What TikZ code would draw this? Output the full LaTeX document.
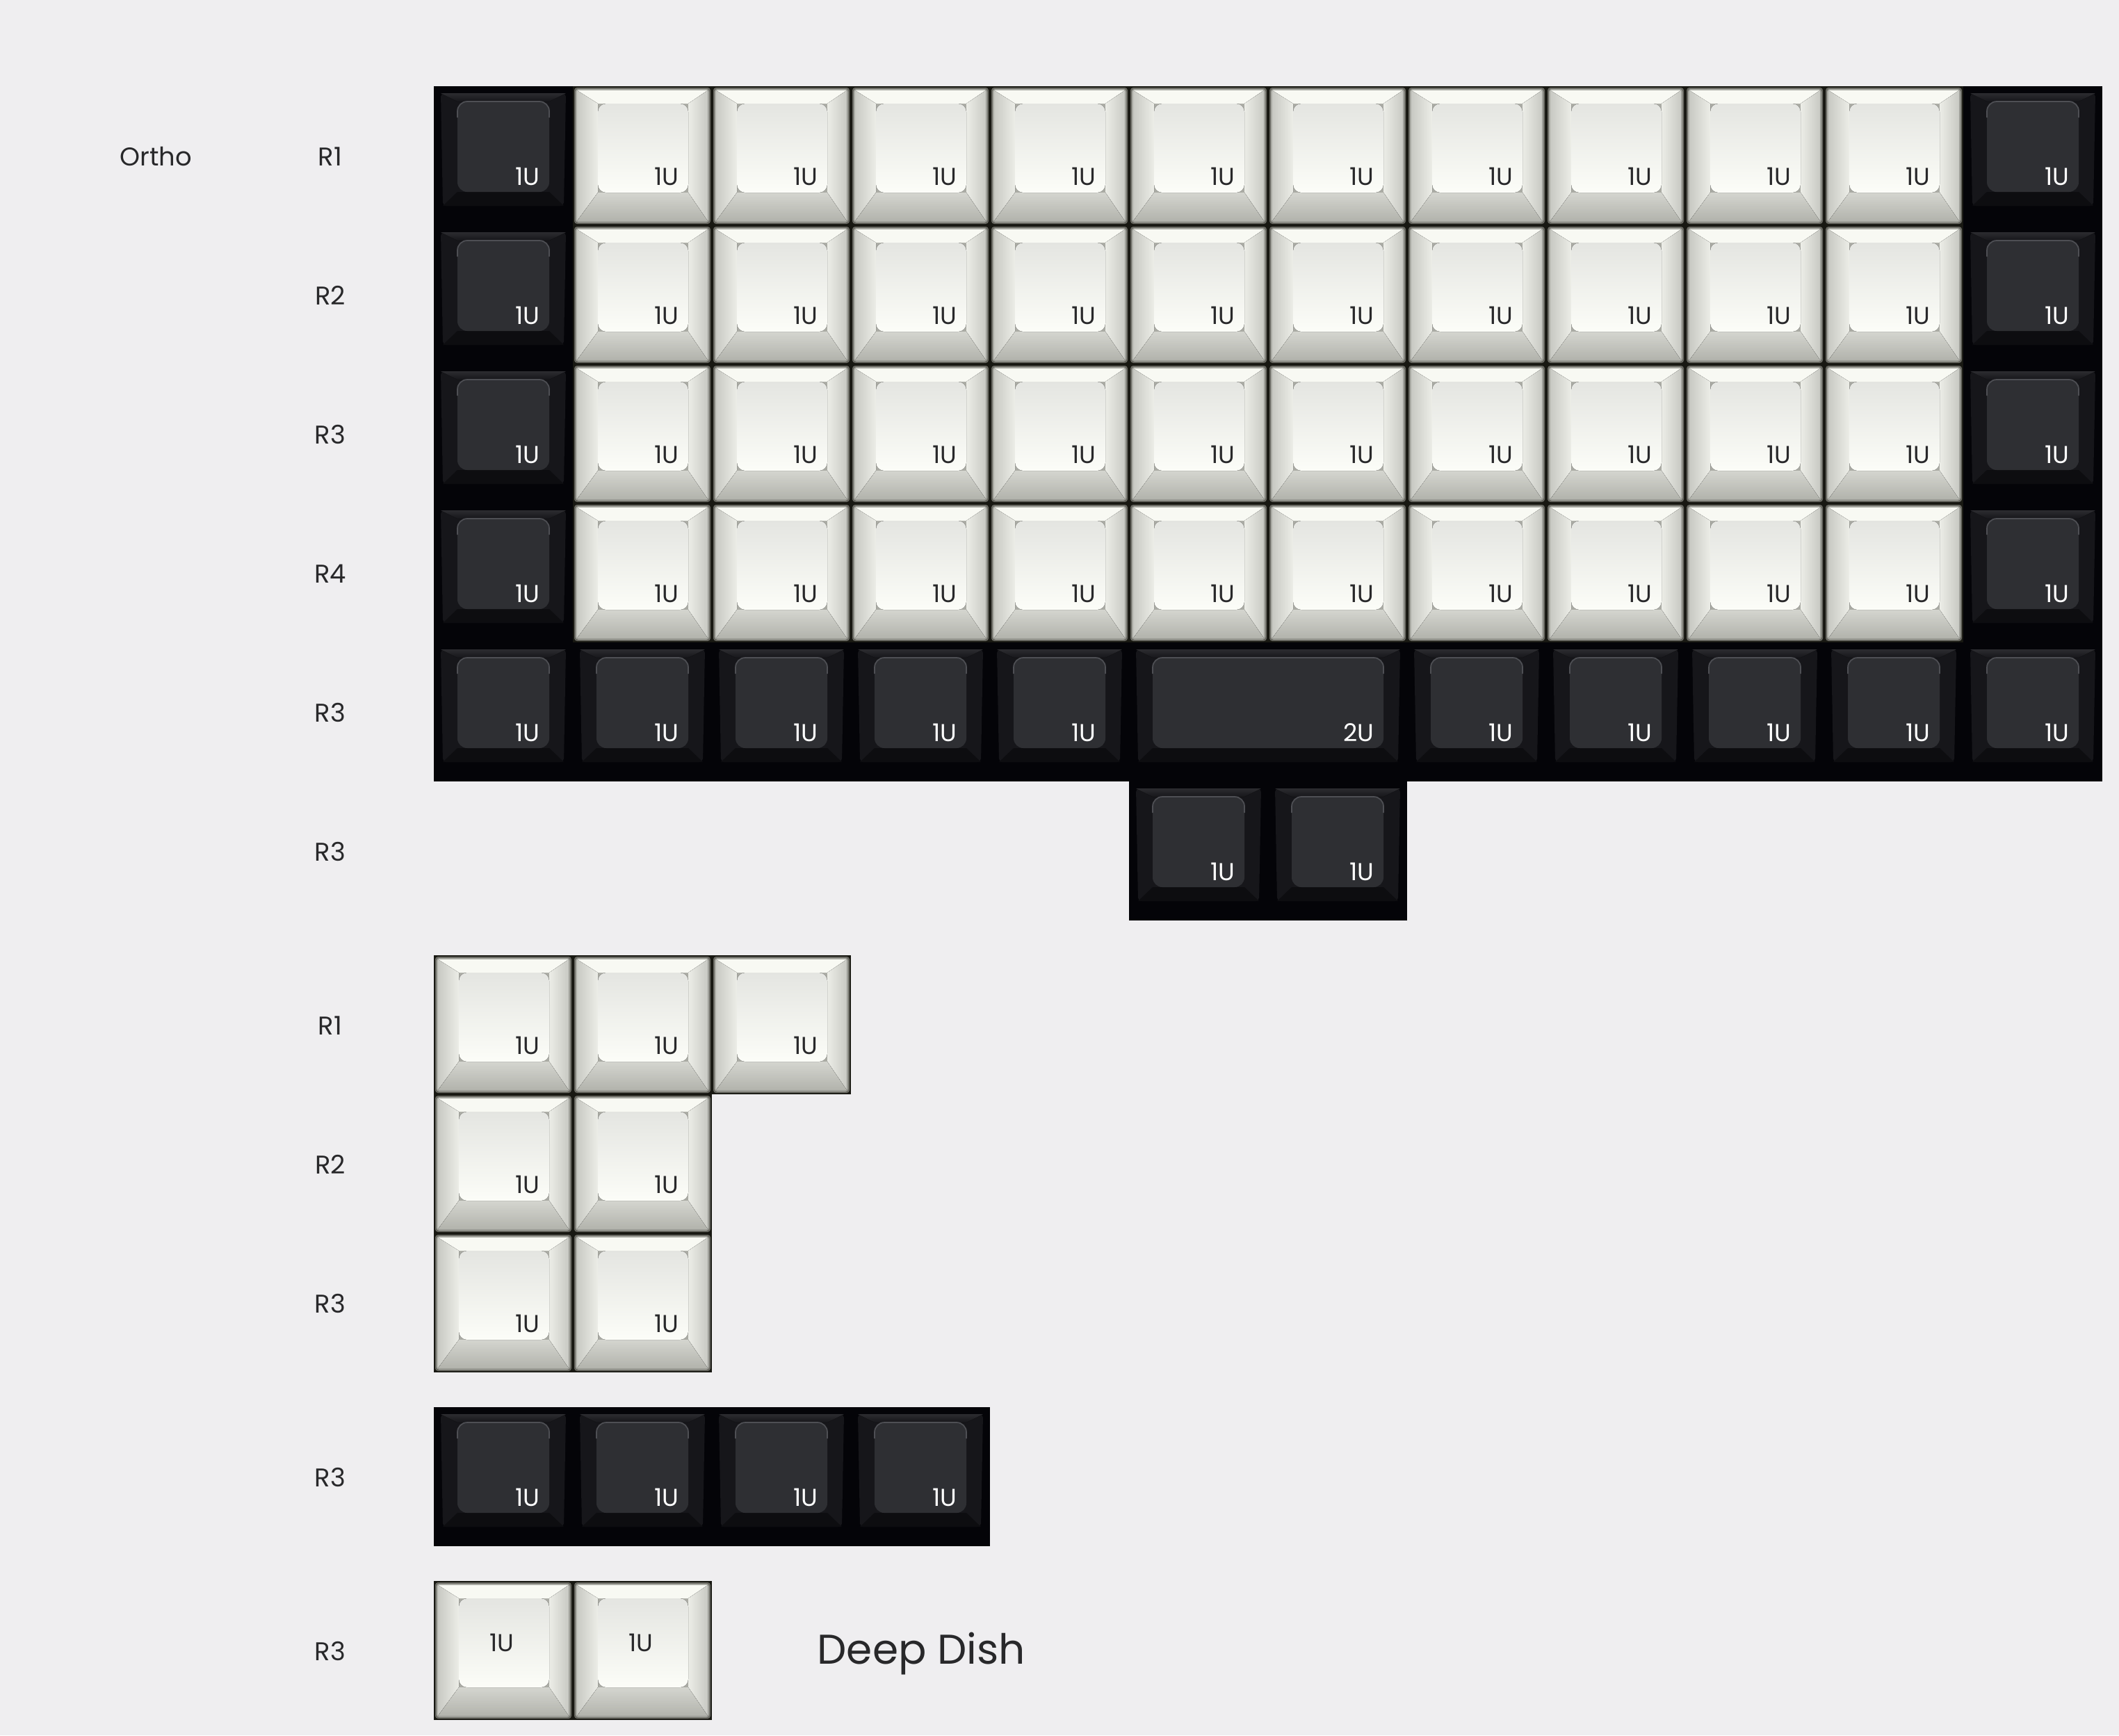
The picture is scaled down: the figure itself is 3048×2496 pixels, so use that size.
\documentclass[tikz,border=0pt]{standalone}
\usepackage{fontspec}
\setmainfont{Poppins}
\usetikzlibrary{calc}

\definecolor{bg}{RGB}{239,238,240}
\definecolor{plate}{RGB}{4,4,8}
\definecolor{ink}{RGB}{40,40,42}
% dark caps
\definecolor{dktop}{RGB}{46,47,51}
\definecolor{dkrim}{RGB}{78,79,84}
\definecolor{dkskirt}{RGB}{22,22,26}
\definecolor{dkskirtlight}{RGB}{44,44,48}
\definecolor{dkskirtdeep}{RGB}{13,13,16}
% white caps
\definecolor{wtgap}{RGB}{24,24,18}
\definecolor{wtedge}{RGB}{105,105,98}
\definecolor{wtedgesoft}{RGB}{170,171,164}
\definecolor{wtskirttop}{RGB}{248,249,243}
\definecolor{wtside}{RGB}{200,201,195}
\definecolor{wtsidelight}{RGB}{236,237,231}
\definecolor{wtbottomA}{RGB}{212,213,207}
\definecolor{wtbottomB}{RGB}{178,179,172}
\definecolor{wtfaceA}{RGB}{228,229,225}
\definecolor{wtfaceB}{RGB}{252,253,248}

\tikzset{
  rowlabel/.style={font=\fontsize{10.5}{12}\selectfont, text=ink, anchor=base, inner sep=0pt},
  sizelabel/.style={font=\fontsize{10}{12}\selectfont, anchor=base east, inner sep=0pt},
}

% x, y (top left), width, text, name
\newcommand{\darkcap}[5]{%
  \fill[dkskirt, rounded corners=0.5mm] (#1+10,#2+10) -- (#1+#3-10,#2+10) -- (#1+#3-13,#2+172) -- (#1+13,#2+172) -- cycle;
  \fill[top color=dkskirtlight, bottom color=dkskirt] (#1+10,#2+10) -- (#1+#3-10,#2+10) -- (#1+#3-34,#2+22) -- (#1+34,#2+22) -- cycle;
  \fill[dkskirtdeep] (#1+34,#2+152) -- (#1+#3-34,#2+152) -- (#1+#3-13,#2+172) -- (#1+13,#2+172) -- cycle;
  \fill[dktop, rounded corners=1.4mm] (#1+34,#2+22) rectangle (#1+#3-34,#2+152);
  \draw[dkrim, line width=0.5pt, rounded corners=1.4mm] (#1+34,#2+45) -- (#1+34,#2+22) -- (#1+#3-34,#2+22) -- (#1+#3-34,#2+45);
  \node[sizelabel, text=white] (#5) at (#1+#3-47,#2+142) {#4};
}

% x, y (top left), width
\newcommand{\whitebody}[3]{%
  \fill[wtgap] (#1,#2) rectangle (#1+#3,#2+200);
  \fill[wtedge, rounded corners=0.4mm] (#1+2,#2+2) rectangle (#1+#3-2,#2+198);
  \fill[wtedgesoft, rounded corners=0.4mm] (#1+4,#2+4) rectangle (#1+#3-4,#2+196);
  \fill[wtskirttop] (#1+6,#2+6) -- (#1+#3-6,#2+6) -- (#1+#3-34,#2+25) -- (#1+36,#2+25) -- cycle;
  \fill[left color=wtside, right color=wtsidelight] (#1+6,#2+6) -- (#1+36,#2+25) -- (#1+36,#2+153) -- (#1+6,#2+194) -- cycle;
  \fill[left color=wtsidelight, right color=wtside] (#1+#3-34,#2+25) -- (#1+#3-6,#2+6) -- (#1+#3-6,#2+194) -- (#1+#3-34,#2+153) -- cycle;
  \fill[top color=wtbottomA, bottom color=wtbottomB] (#1+36,#2+153) -- (#1+#3-34,#2+153) -- (#1+#3-6,#2+194) -- (#1+6,#2+194) -- cycle;
  \fill[top color=wtfaceA, bottom color=wtfaceB, rounded corners=1.2mm] (#1+36,#2+25) rectangle (#1+#3-34,#2+153);
}

\newcommand{\whitecap}[5]{%
  \whitebody{#1}{#2}{#3}
  \node[sizelabel, text=ink] (#5) at (#1+#3-47,#2+142) {#4};
}

\newcommand{\dishcap}[5]{%
  \whitebody{#1}{#2}{#3}
  \node[sizelabel, text=ink, anchor=center] (#5) at (#1+#3/2-2,#2+89) {#4};
}

\begin{document}
\begin{tikzpicture}[x=0.01cm, y=-0.01cm]
  \pgfmathsetmacro{\u}{200}
  \pgfmathsetmacro{\xo}{624}
  \pgfmathsetmacro{\lx}{475}

  \fill[bg] (0,0) rectangle (3048,2496);
  \useasboundingbox (0,0) rectangle (3048,2496);

  % ortho block
  \fill[plate] (\xo,124) rectangle (\xo+12*\u,1124);
  \fill[plate] (\xo+5*\u,1124) rectangle (\xo+7*\u,1324);

  \foreach \r in {0,...,3} {
    \pgfmathsetmacro{\ky}{124+\r*\u}
    \darkcap{\xo}{\ky}{\u}{1U}{m-\r-0}
    \darkcap{\xo+11*\u}{\ky}{\u}{1U}{m-\r-11}
    \foreach \c in {1,...,10} {
      \pgfmathsetmacro{\kx}{\xo+\c*\u}
      \whitecap{\kx}{\ky}{\u}{1U}{m-\r-\c}
    }
  }
  \foreach \c in {0,...,4,7,8,9,10,11} {
    \pgfmathsetmacro{\kx}{\xo+\c*\u}
    \darkcap{\kx}{924}{\u}{1U}{m-4-\c}
  }
  \darkcap{\xo+5*\u}{924}{2*\u}{2U}{m-4-space}
  \darkcap{\xo+5*\u}{1124}{\u}{1U}{m-5-5}
  \darkcap{\xo+6*\u}{1124}{\u}{1U}{m-5-6}

  % extras
  \foreach \c in {0,1,2} {
    \pgfmathsetmacro{\kx}{\xo+\c*\u}
    \whitecap{\kx}{1374}{\u}{1U}{x-1-\c}
  }
  \foreach \c in {0,1} {
    \pgfmathsetmacro{\kx}{\xo+\c*\u}
    \whitecap{\kx}{1574}{\u}{1U}{x-2-\c}
    \whitecap{\kx}{1774}{\u}{1U}{x-3-\c}
  }
  \fill[plate] (\xo,2024) rectangle (\xo+4*\u,2224);
  \foreach \c in {0,...,3} {
    \pgfmathsetmacro{\kx}{\xo+\c*\u}
    \darkcap{\kx}{2024}{\u}{1U}{x-4-\c}
  }
  \foreach \c in {0,1} {
    \pgfmathsetmacro{\kx}{\xo+\c*\u}
    \dishcap{\kx}{2274}{\u}{1U}{d-\c}
  }

  % labels
  \node[rowlabel] (ortho) at (224,238) {Ortho};
  \foreach \y/\t [count=\i] in {238/R1,438/R2,638/R3,838/R4,1038/R3,1238/R3,1488/R1,1688/R2,1888/R3,2138/R3,2388/R3} {
    \node[rowlabel] (row-\i) at (\lx,\y) {\t};
  }
  \node[font=\fontsize{17}{20}\selectfont, text=ink, anchor=base west, inner sep=0pt] (dish) at (1175,2393) {Deep Dish};
\end{tikzpicture}
\end{document}
